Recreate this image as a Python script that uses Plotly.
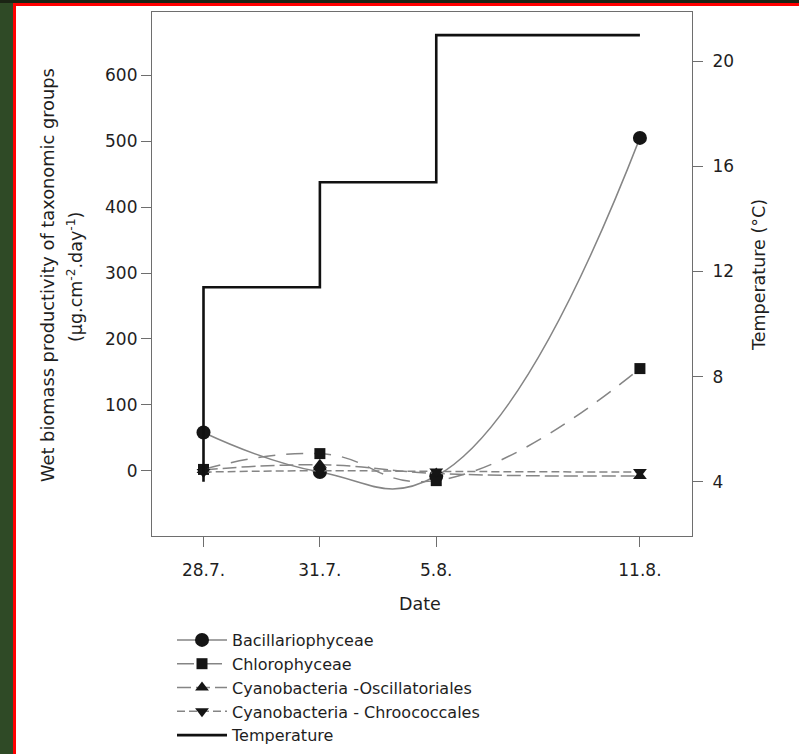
import plotly.graph_objects as go

# ---- data ----
dates = ["28.7.", "31.7.", "5.8.", "11.8."]
day = [0, 4, 8, 15]
bacillariophyceae = [58, -2, -8, 505]
chlorophyceae = [2, 26, -15, 155]
oscillatoriales = [1, 9, -4, -8]
chroococcales = [-2, 0, -1, -2]
temperature = [4, 11.4, 15.4, 21]
left_ticks = [0, 100, 200, 300, 400, 500, 600]
right_ticks = [4, 8, 12, 16, 20]

W, H = 799, 754
L, R, T, B = 152, 692, 12, 536
FONT = "DejaVu Sans"
TXT = "#1e1e1e"
LINEC = "#858585"
MK = "#151515"


def px(x):
    return (x - L) / (R - L)


def py(y):
    return (B - y) / (B - T)


fig = go.Figure()

series = [
    ("Bacillariophyceae", bacillariophyceae, "circle", 14, "solid"),
    ("Chlorophyceae", chlorophyceae, "square", 11, "17px,11px"),
    ("Cyanobacteria -Oscillatoriales", oscillatoriales, "triangle-up", 12, "14px,5px"),
    ("Cyanobacteria - Chroococcales", chroococcales, "triangle-down", 12, "8px,4px"),
]
for name, vals, sym, size, dash in series:
    fig.add_trace(go.Scatter(
        x=day, y=vals, name=name, mode="lines+markers",
        line=dict(color=LINEC, width=1.5, dash=dash, shape="spline", smoothing=1.3),
        marker=dict(symbol=sym, size=size, color=MK, line=dict(width=0)),
        yaxis="y",
    ))

fig.add_trace(go.Scatter(
    x=day, y=temperature, name="Temperature", mode="lines",
    line=dict(color="#111111", width=2.6, shape="vh"),
    yaxis="y2",
))

axis_common = dict(
    showline=True, linecolor="#6e6e6e", linewidth=1.2,
    ticks="outside", ticklen=10, tickcolor="#6e6e6e", tickwidth=1.2,
    showgrid=False, zeroline=False,
    tickfont=dict(family=FONT, size=17, color=TXT),
)

fig.update_layout(
    width=W, height=H,
    margin=dict(l=L, r=W - R, t=T, b=H - B, autoexpand=False),
    paper_bgcolor="white", plot_bgcolor="white",
    font=dict(family=FONT, size=17, color=TXT),
    xaxis=dict(range=[-1.77, 16.79], tickvals=day, ticktext=dates, mirror=True,
               ticklabelstandoff=8, **axis_common),
    yaxis=dict(range=[-99, 696], tickvals=left_ticks, **axis_common),
    yaxis2=dict(range=[1.93, 21.88], tickvals=right_ticks, overlaying="y", side="right",
                ticklabelstandoff=6, **axis_common),
    showlegend=True,
    legend=dict(
        x=px(172), y=py(623), xanchor="left", yanchor="top",
        bgcolor="rgba(0,0,0,0)", borderwidth=0,
        font=dict(family=FONT, size=16, color=TXT),
        tracegroupgap=0, itemwidth=50,
    ),
)

annos = [
    dict(x=px(47), y=py(275), text="Wet biomass productivity of taxonomic groups", textangle=-90, size=17.8),
    dict(x=px(75), y=py(277), text="(µg.cm<sup>-2</sup>.day<sup>-1</sup>)", textangle=-90, size=17.5),
    dict(x=px(759), y=py(275), text="Temperature (°C)", textangle=-90, size=17.5),
    dict(x=px(420), y=py(604), text="Date", textangle=0, size=17.5),
]
for a in annos:
    size = a.pop("size")
    fig.add_annotation(xref="paper", yref="paper", showarrow=False,
                       xanchor="center", yanchor="middle",
                       font=dict(family=FONT, size=size, color=TXT), **a)

# scan frame decorations (dark strip and red border)
shapes = [
    dict(x0=px(0), x1=px(13), y0=py(754), y1=py(0), fillcolor="#2f4a26"),
    dict(x0=px(0), x1=px(799), y0=py(3), y1=py(0), fillcolor="#1b2414"),
    dict(x0=px(13), x1=px(16), y0=py(754), y1=py(3), fillcolor="#ff0000"),
    dict(x0=px(13), x1=px(799), y0=py(6), y1=py(3), fillcolor="#ff0000"),
]
for s in shapes:
    fig.add_shape(type="rect", xref="paper", yref="paper", line=dict(width=0), layer="below", **s)

fig.write_html("out.html")
